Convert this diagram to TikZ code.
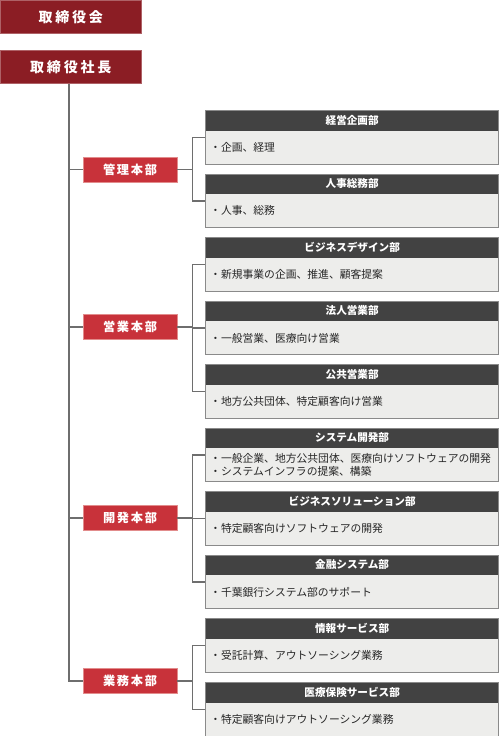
\documentclass[tikz,border=0pt]{standalone}
\usepackage{fontspec}
\setmainfont{Noto Sans CJK JP}
\newfontfamily\titlefont[LetterSpace=20]{Noto Sans CJK JP}
\newfontfamily\divfont[LetterSpace=14]{Noto Sans CJK JP}
\definecolor{topred}{HTML}{8B1D24}
\definecolor{divred}{HTML}{C8323A}
\definecolor{divedge}{HTML}{E28C8C}
\definecolor{headgray}{HTML}{424242}
\definecolor{bodygray}{HTML}{EDEDEB}
\definecolor{edgegray}{HTML}{8A8A8A}
\definecolor{linegray}{HTML}{6E6E6E}
\tikzset{
  topbox/.style={rectangle, fill=topred, draw=topred!70!white, line width=0.6pt, minimum width=141pt, minimum height=33pt, inner sep=0pt, text=white, font=\titlefont\bfseries\fontsize{14}{16}\selectfont},
  divbox/.style={rectangle, fill=divred, draw=divedge, line width=0.8pt, minimum width=94pt, minimum height=25pt, inner sep=0pt, text=white, font=\divfont\bfseries\fontsize{12.2}{14}\selectfont},
  deptbox/.style={rectangle, fill=bodygray, draw=edgegray, line width=1.3pt, minimum width=293pt, minimum height=53.5pt, inner sep=0pt, anchor=north west,
    path picture={\fill[headgray] (path picture bounding box.north west) rectangle ([yshift=-20pt]path picture bounding box.north east);}},
  depthead/.style={rectangle, minimum height=20pt, inner sep=0pt, anchor=north, text=white, font=\bfseries\fontsize{10.6}{12}\selectfont},
  deptbody/.style={rectangle, inner sep=0pt, anchor=west, align=left, text=black!85, font=\fontsize{10.8}{13}\selectfont},
  conn/.style={draw=linegray, line width=1.5pt},
}
\newcommand\deptunit[4]{%
  \node[deptbox] (#1) at (205,#2) {};
  \node[depthead] (#1h) at (#1.north) {#3};
  \node[deptbody] (#1b) at ([xshift=5pt,yshift=-10pt]#1.west) {#4};
}
\begin{document}
\begin{tikzpicture}[x=1pt,y=-1pt]
\useasboundingbox (0,0) rectangle (500,736);
\coordinate (tx) at (69,0);
\coordinate (bx) at (192.5,0);
% top boxes
\node[topbox, anchor=north west] (board) at (0,0) {取締役会\hspace{-2.8pt}};
\node[topbox, anchor=north west] (ceo) at (0,50) {取締役社長\hspace{-2.8pt}};
% divisions
\node[divbox] (kanri) at (130,169.5) {管理本部\hspace{-1.7pt}};
\node[divbox] (eigyo) at (130,327) {営業本部\hspace{-1.7pt}};
\node[divbox] (kaihatsu) at (130,518) {開発本部\hspace{-1.7pt}};
\node[divbox] (gyomu) at (130,681) {業務本部\hspace{-1.7pt}};
% departments
\deptunit{d1}{110}{経営企画部}{・企画、経理}
\deptunit{d2}{173.5}{人事総務部}{・人事、総務}
\deptunit{d3}{237}{ビジネスデザイン部}{・新規事業の企画、推進、顧客提案}
\deptunit{d4}{300.5}{法人営業部}{・一般営業、医療向け営業}
\deptunit{d5}{364}{公共営業部}{・地方公共団体、特定顧客向け営業}
\deptunit{d6}{427.5}{システム開発部}{・一般企業、地方公共団体、医療向けソフトウェアの開発\\・システムインフラの提案、構築}
\deptunit{d7}{491}{ビジネスソリューション部}{・特定顧客向けソフトウェアの開発}
\deptunit{d8}{554.5}{金融システム部}{・千葉銀行システム部のサポート}
\deptunit{d9}{618}{情報サービス部}{・受託計算、アウトソーシング業務}
\deptunit{d10}{682}{医療保険サービス部}{・特定顧客向けアウトソーシング業務}
% trunk
\draw[conn] (ceo.south -| tx) |- (gyomu.west);
\draw[conn] (kanri.west -| tx) -- (kanri.west);
\draw[conn] (eigyo.west -| tx) -- (eigyo.west);
\draw[conn] (kaihatsu.west -| tx) -- (kaihatsu.west);
% branches
\foreach \dv/\dp in {kanri/d1, kanri/d2, eigyo/d3, eigyo/d4, eigyo/d5, kaihatsu/d6, kaihatsu/d7, kaihatsu/d8, gyomu/d9, gyomu/d10}{
  \draw[conn] (\dv.east) -| (bx |- \dp.west) -- (\dp.west);
}
\end{tikzpicture}
\end{document}
